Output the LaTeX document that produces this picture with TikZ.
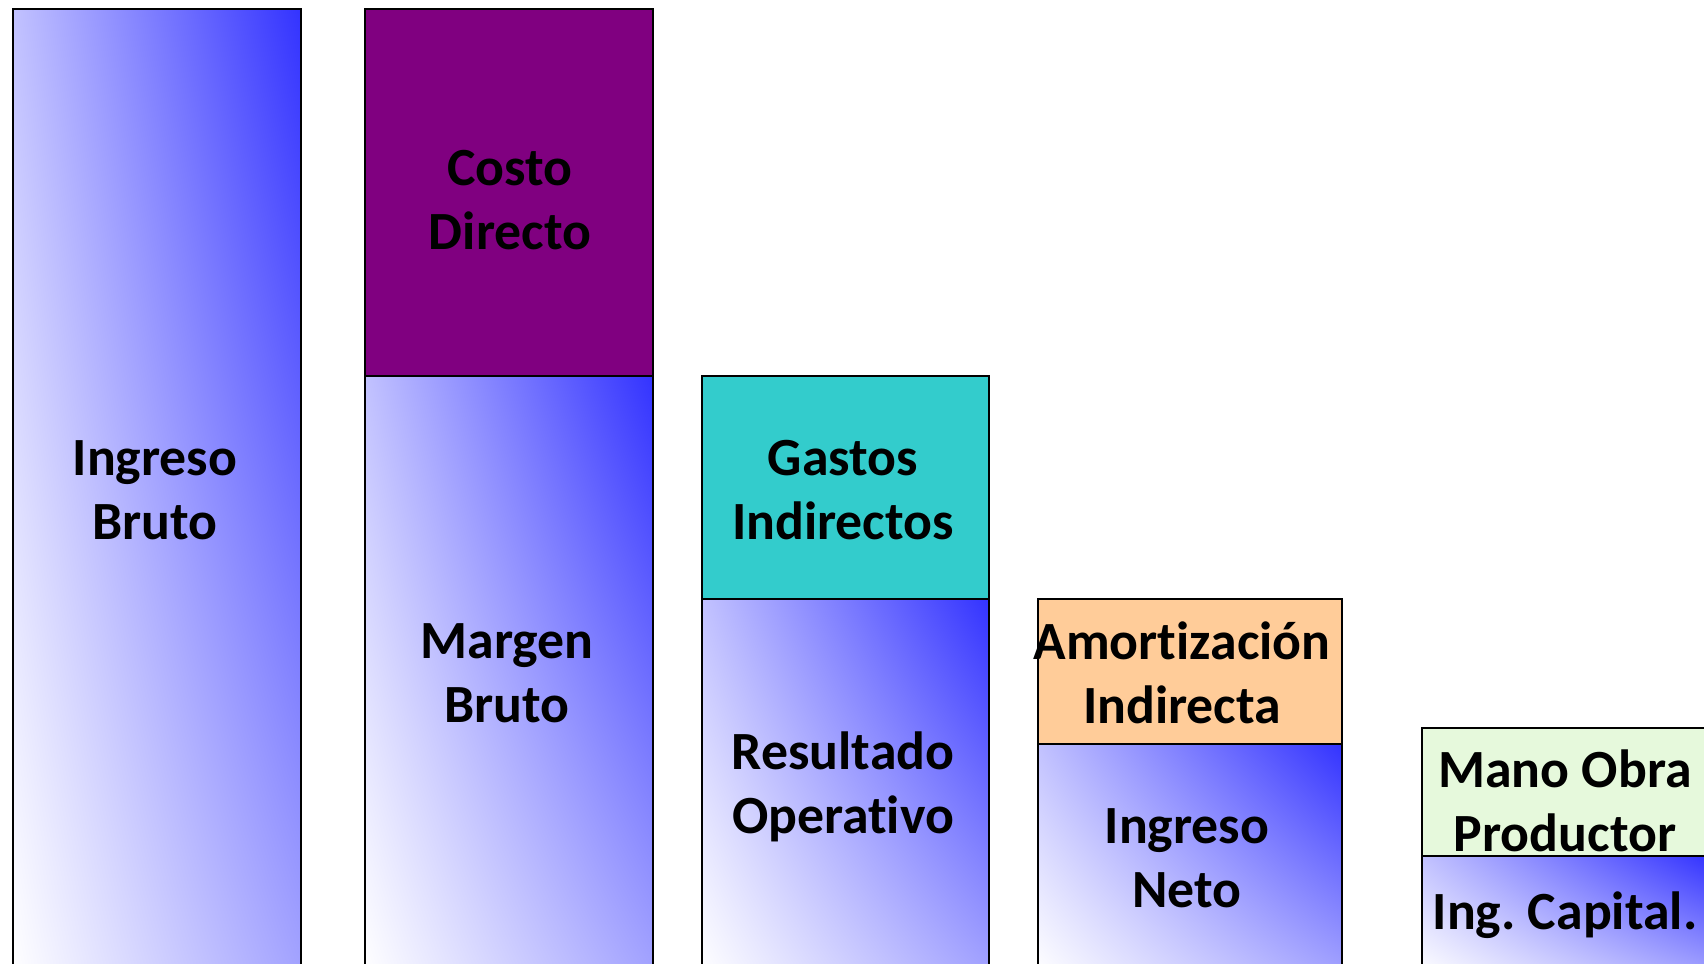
\documentclass[tikz,border=0pt]{standalone}
\usepackage{fontspec}
\setmainfont{Carlito}[Ligatures=NoCommon]
\usetikzlibrary{shadings}
\definecolor{ingblue}{RGB}{51,51,255}
\definecolor{colcosto}{RGB}{128,0,128}
\definecolor{colgastos}{RGB}{51,204,204}
\definecolor{colamort}{RGB}{255,204,153}
\definecolor{colmano}{HTML}{E6F9DC}
\frenchspacing
\begin{document}
\begin{tikzpicture}[x=0.1mm,y=-0.1mm,
    lbl/.style={font=\fontsize{15.3pt}{18.2pt}\selectfont\bfseries, align=center},
    seg/.style={draw=black, line width=0.5pt},
    grad/.style={seg, lower left=white, upper right=ingblue,
        upper left=ingblue!30!white, lower right=ingblue!45!white}]
\useasboundingbox (0,0) rectangle (1704,964);
\clip (0,0) rectangle (1704,964);

% columnas
\shadedraw[grad] (13,9) rectangle (301,975);
\filldraw[seg, fill=colcosto] (365,9) rectangle (653,376);
\shadedraw[grad] (365,376) rectangle (653,975);
\filldraw[seg, fill=colgastos] (702,376) rectangle (989,599);
\shadedraw[grad] (702,599) rectangle (989,975);
\filldraw[seg, fill=colamort] (1038,599) rectangle (1342,744);
\shadedraw[grad] (1038,744) rectangle (1342,975);
\filldraw[seg, fill=colmano] (1422,728) rectangle (1708,856);
\shadedraw[grad] (1422,856) rectangle (1708,975);

% textos
\node[lbl] (ingbruto) at (155,490) {Ingreso\\Bruto};
\node[lbl] (costo) at (510,200) {Costo\\Directo};
\node[lbl] (margen) at (507,673) {Margen\\Bruto};
\node[lbl] (gastos) at (843,490) {Gastos\\Indirectos};
\node[lbl] (resultado) at (843,787) {Resultado\\Operativo};
\node[lbl] (amort) at (1182,673) {Amortización\\Indirecta};
\node[lbl] (ingneto) at (1187,858) {Ingreso\\Neto};
\node[lbl] (mano) at (1565,801) {Mano Obra\\Productor};
\node[lbl] (capital) at (1565,915) {Ing. Capital.};

\end{tikzpicture}
\end{document}
